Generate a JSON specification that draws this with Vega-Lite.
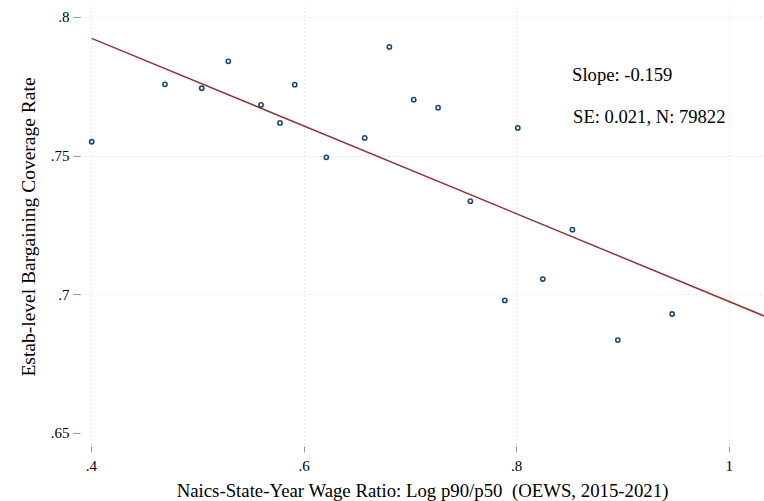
{
  "$schema": "https://vega.github.io/schema/vega-lite/v6.json",
  "autosize": "none",
  "width": 684,
  "height": 439,
  "padding": {"left": 80, "top": 7, "right": 0, "bottom": 55},
  "background": "white",
  "config": {
    "view": {"stroke": null},
    "font": "Liberation Serif"
  },
  "datasets": {
    "bins": [
      {"x": 0.4007, "y": 0.7550},
      {"x": 0.4696, "y": 0.7757},
      {"x": 0.5042, "y": 0.7743},
      {"x": 0.5292, "y": 0.7840},
      {"x": 0.5600, "y": 0.7683},
      {"x": 0.5778, "y": 0.7618},
      {"x": 0.5917, "y": 0.7756},
      {"x": 0.6214, "y": 0.7494},
      {"x": 0.6575, "y": 0.7564},
      {"x": 0.6807, "y": 0.7892},
      {"x": 0.7036, "y": 0.7702},
      {"x": 0.7265, "y": 0.7673},
      {"x": 0.7569, "y": 0.7336},
      {"x": 0.7893, "y": 0.6978},
      {"x": 0.8015, "y": 0.7600},
      {"x": 0.8250, "y": 0.7055},
      {"x": 0.8529, "y": 0.7233},
      {"x": 0.8956, "y": 0.6835},
      {"x": 0.9467, "y": 0.6929}
    ],
    "fit": [
      {"x": 0.4007, "y": 0.7923},
      {"x": 1.0331, "y": 0.6922}
    ],
    "notes": [
      {"label": "Slope: -0.159", "x": 0.8526, "y": 0.7791},
      {"label": "SE: 0.021, N: 79822", "x": 0.8535, "y": 0.7639}
    ]
  },
  "encoding": {
    "x": {
      "type": "quantitative",
      "scale": {"domain": [0.3897, 1.0331], "nice": false, "zero": false},
      "axis": {
        "values": [0.4, 0.6, 0.8, 1],
        "title": "Naics-State-Year Wage Ratio: Log p90/p50\u00a0 (OEWS, 2015-2021)",
        "titleFont": "Liberation Serif",
        "titleFontSize": 18.8,
        "titleFontWeight": "normal",
        "titleColor": "#000000",
        "titlePadding": 8,
        "labelExpr": "datum.value < 1 ? slice(format(datum.value, '.2~f'), 1) : format(datum.value, '.2~f')",
        "labelFont": "Liberation Serif",
        "labelFontSize": 15,
        "labelColor": "#000000",
        "labelPadding": 6,
        "domain": false,
        "ticks": true,
        "tickSize": 6,
        "tickColor": "#999999",
        "tickWidth": 1,
        "grid": true,
        "gridColor": "#d0d0d0",
        "gridDash": [1, 3],
        "gridWidth": 1
      }
    },
    "y": {
      "type": "quantitative",
      "scale": {"domain": [0.6453, 0.8036], "nice": false, "zero": false},
      "axis": {
        "values": [0.65, 0.7, 0.75, 0.8],
        "title": "Estab-level Bargaining Coverage Rate",
        "titleFont": "Liberation Serif",
        "titleFontSize": 19.5,
        "titleFontWeight": "normal",
        "titleColor": "#000000",
        "titlePadding": 12,
        "labelExpr": "slice(format(datum.value, '.2~f'), 1)",
        "labelFont": "Liberation Serif",
        "labelFontSize": 15,
        "labelColor": "#000000",
        "labelPadding": 4,
        "domain": false,
        "ticks": true,
        "tickSize": 7,
        "tickColor": "#999999",
        "tickWidth": 1,
        "grid": true,
        "gridColor": "#d0d0d0",
        "gridDash": [1, 3],
        "gridWidth": 1,
        "gridOpacity": {"condition": {"test": "datum.value < 0.66", "value": 0}, "value": 1}
      }
    }
  },
  "layer": [
    {
      "mark": {"type": "rule", "color": "#999999", "strokeWidth": 1.2},
      "encoding": {
        "x": {"datum": 0.4},
        "x2": {"datum": 1},
        "y": {"datum": 0.6453}
      }
    },
    {
      "mark": {"type": "rule", "color": "#999999", "strokeWidth": 1.2},
      "encoding": {
        "x": {"datum": 0.3897},
        "y": {"datum": 0.65},
        "y2": {"datum": 0.8}
      }
    },
    {
      "data": {"name": "fit"},
      "mark": {"type": "line", "color": "#90353b", "strokeWidth": 1.5, "clip": true},
      "encoding": {
        "x": {"field": "x", "type": "quantitative"},
        "y": {"field": "y", "type": "quantitative"}
      }
    },
    {
      "data": {"name": "bins"},
      "mark": {"type": "point", "shape": "circle", "filled": false, "color": "#1a476f", "size": 18, "strokeWidth": 1.6, "opacity": 1},
      "encoding": {
        "x": {"field": "x", "type": "quantitative"},
        "y": {"field": "y", "type": "quantitative"}
      }
    },
    {
      "data": {"name": "notes"},
      "mark": {"type": "text", "align": "left", "baseline": "middle", "font": "Liberation Serif", "fontSize": 18.6, "color": "#000000"},
      "encoding": {
        "x": {"field": "x", "type": "quantitative"},
        "y": {"field": "y", "type": "quantitative"},
        "text": {"field": "label", "type": "nominal"}
      }
    }
  ]
}
